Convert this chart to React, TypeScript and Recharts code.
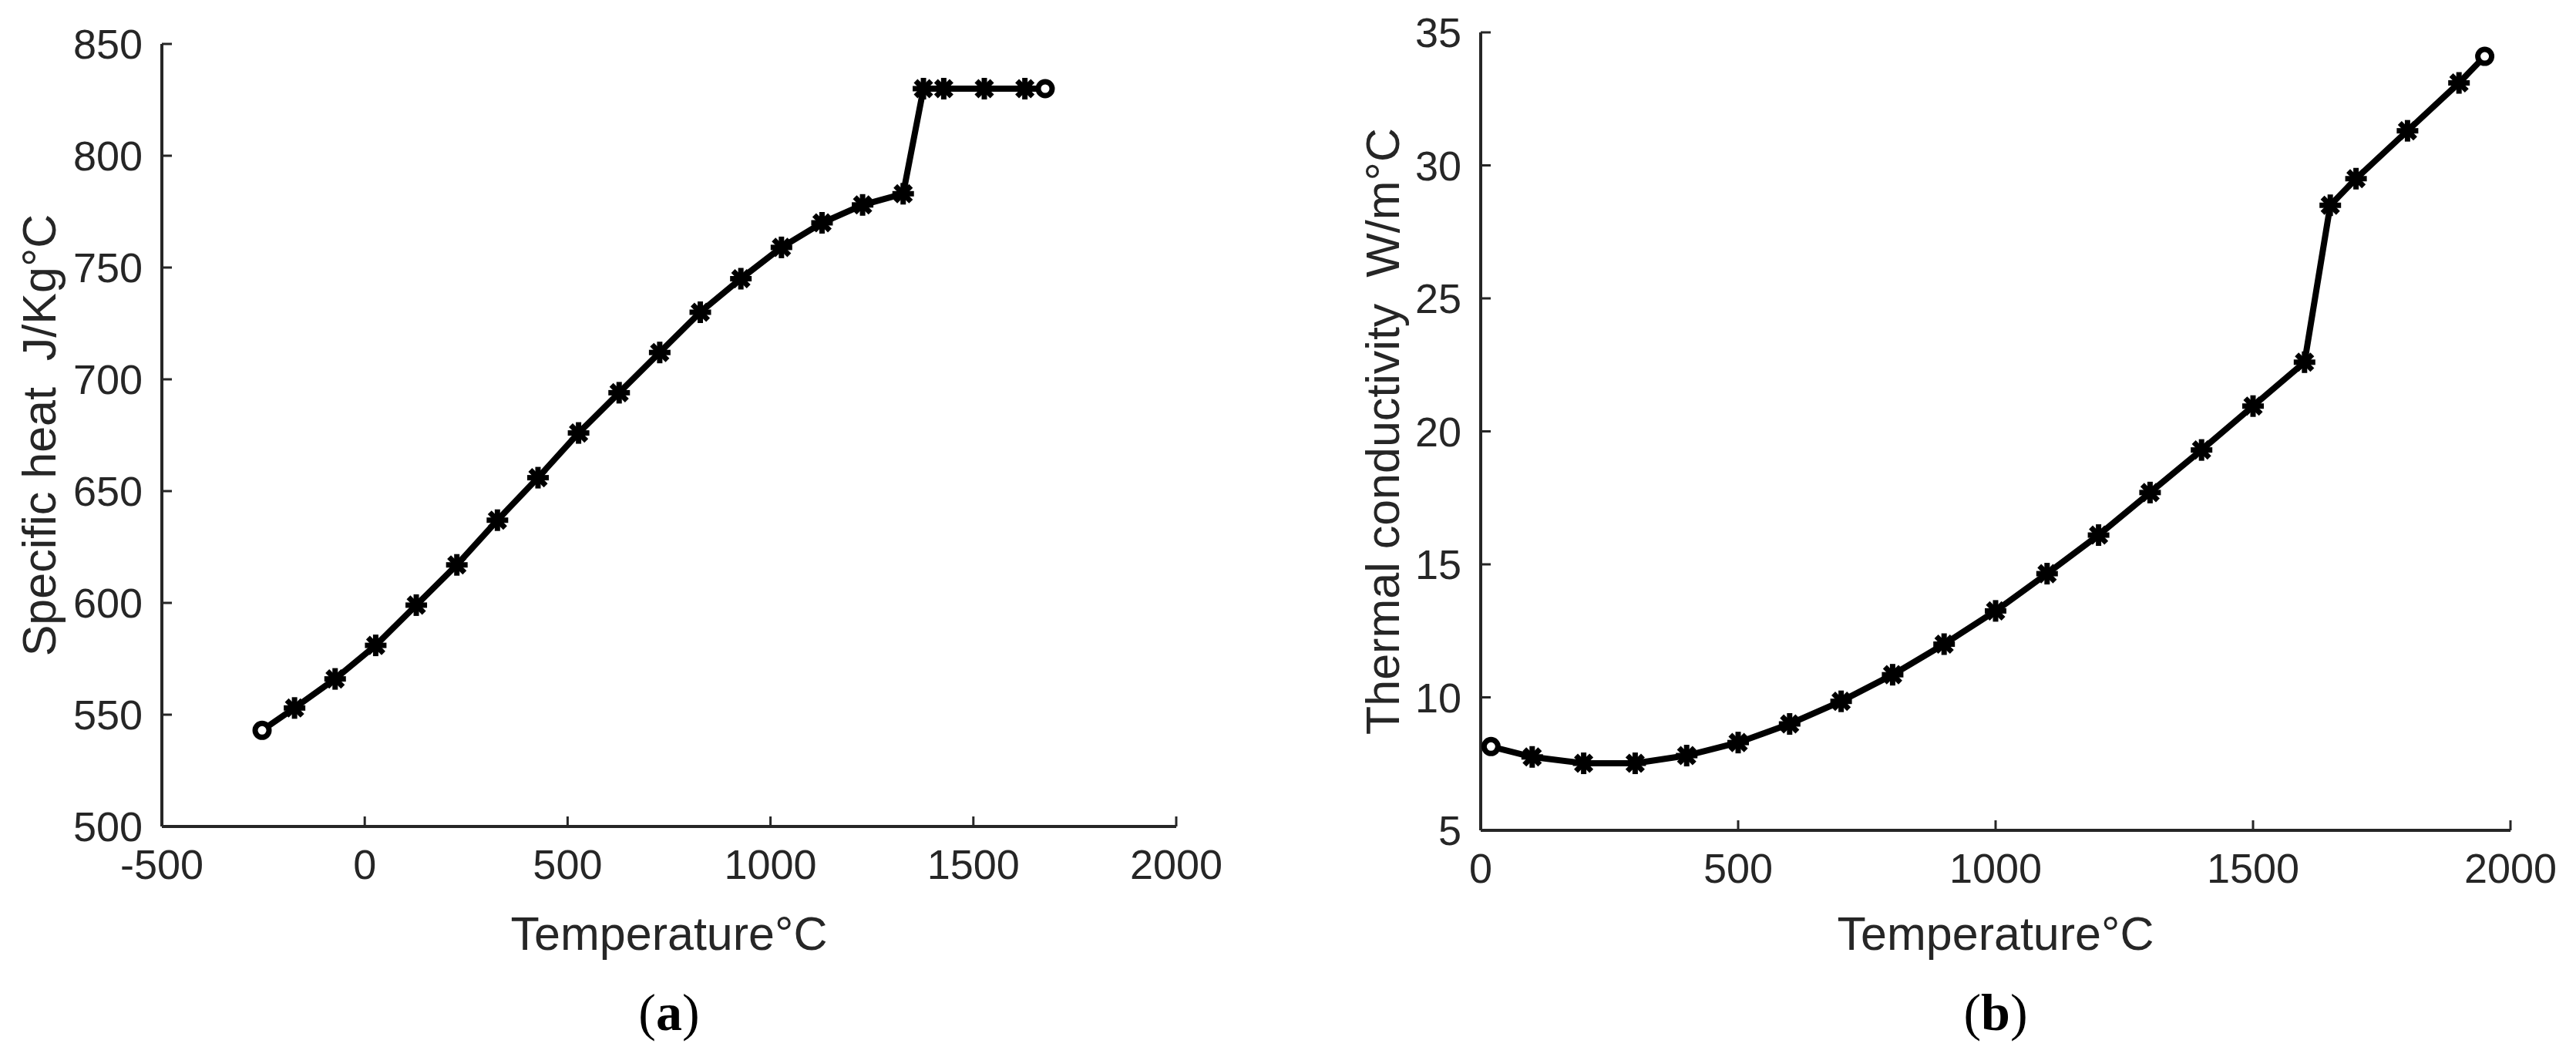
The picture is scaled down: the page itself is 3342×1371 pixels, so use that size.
import { LineChart, Line, XAxis, YAxis, Label } from "recharts"

// (a) specific heat
const heatTemps = [-253, -173, -73, 27, 127, 227, 327, 427, 527, 627, 727, 827, 927, 1027, 1127, 1227, 1327, 1377, 1427, 1527, 1627, 1677]
const heatValues = [543, 553, 566, 581, 599, 617, 637, 656, 676, 694, 712, 730, 745, 759, 770, 778, 783, 830, 830, 830, 830, 830]
const heatXTicks = [-500, 0, 500, 1000, 1500, 2000]
const heatYTicks = [500, 550, 600, 650, 700, 750, 800, 850]

// (b) thermal conductivity
const condTemps = [20, 100, 200, 300, 400, 500, 600, 700, 800, 900, 1000, 1100, 1200, 1300, 1400, 1500, 1600, 1650, 1700, 1800, 1900, 1950]
const condValues = [8.15, 7.76, 7.52, 7.52, 7.81, 8.3, 9.0, 9.85, 10.85, 12.0, 13.25, 14.65, 16.1, 17.7, 19.3, 20.95, 22.6, 28.5, 29.5, 31.3, 33.1, 34.1]
const condXTicks = [0, 500, 1000, 1500, 2000]
const condYTicks = [5, 10, 15, 20, 25, 30, 35]

const FONT = '"Liberation Sans", Arial, Helvetica, sans-serif'
const INK = "#262626"
const TICK_LEN = 13
const GAP_X = 30
const GAP_Y = 25
const TICK_FS = 54
const LABEL_FS = 61

// ticks point inwards like MATLAB, so draw them together with the label
const bottomTick = (axisY: number) => (props: any) => {
  const { x, payload } = props
  return (
    <g>
      <line x1={x} x2={x} y1={axisY} y2={axisY - TICK_LEN} stroke={INK} strokeWidth={3} />
      <text x={x} y={axisY + GAP_X} dy="0.71em" textAnchor="middle" fontSize={TICK_FS} fill={INK} fontFamily={FONT}>
        {payload.value}
      </text>
    </g>
  )
}

const leftTick = (axisX: number) => (props: any) => {
  const { y, payload } = props
  return (
    <g>
      <line x1={axisX} x2={axisX + TICK_LEN} y1={y} y2={y} stroke={INK} strokeWidth={3} />
      <text x={axisX - GAP_Y} y={y} dy="0.355em" textAnchor="end" fontSize={TICK_FS} fill={INK} fontFamily={FONT}>
        {payload.value}
      </text>
    </g>
  )
}

const topTick = (axisY: number) => (props: any) => {
  const { x } = props
  return <line x1={x} x2={x} y1={axisY} y2={axisY + TICK_LEN} stroke={INK} strokeWidth={3} />
}

const rightTick = (axisX: number) => (props: any) => {
  const { y } = props
  return <line x1={axisX} x2={axisX - TICK_LEN} y1={y} y2={y} stroke={INK} strokeWidth={3} />
}

const makeDot = (count: number) => (props: any) => {
  const { cx, cy, index } = props
  if (index === 0 || index === count - 1) {
    return <circle key={`d${index}`} cx={cx} cy={cy} r={9} fill="#fff" stroke="#000" strokeWidth={7} />
  }
  const r = 14
  const d = r * 0.72
  return (
    <g key={`d${index}`} stroke="#000" strokeWidth={7}>
      <line x1={cx - r} x2={cx + r} y1={cy} y2={cy} />
      <line x1={cx} x2={cx} y1={cy - r} y2={cy + r} />
      <line x1={cx - d} x2={cx + d} y1={cy - d} y2={cy + d} />
      <line x1={cx - d} x2={cx + d} y1={cy + d} y2={cy - d} />
    </g>
  )
}

function Panel(props: {
  left: number
  width: number
  plotL: number
  plotR: number
  plotT: number
  plotB: number
  temps: number[]
  values: number[]
  xDomain: [number, number]
  yDomain: [number, number]
  xTicks: number[]
  yTicks: number[]
  yTitle: string
  yTitleX: number
  letter: string
}) {
  const H = 1371
  const xAxisH = 60
  const yAxisW = 160
  const data = props.temps.map((t, i) => ({ t, v: props.values[i] }))
  const cx = (props.plotL + props.plotR) / 2
  const cy = (props.plotT + props.plotB) / 2
  return (
    <div style={{ position: "absolute", left: props.left, top: 0 }}>
      <LineChart
        width={props.width}
        height={H}
        data={data}
        margin={{
          top: props.plotT,
          left: props.plotL - yAxisW,
          right: props.width - props.plotR,
          bottom: H - props.plotB - xAxisH,
        }}
      >
        <XAxis
          dataKey="t"
          type="number"
          domain={props.xDomain}
          ticks={props.xTicks}
          interval={0}
          height={xAxisH}
          tickSize={0}
          tickMargin={GAP_X}
          tickLine={false}
          axisLine={{ stroke: INK, strokeWidth: 4 }}
          tick={bottomTick(props.plotB)}
        >
          <Label
            content={() => (
              <text x={cx} y={1210} dy="0.355em" textAnchor="middle" fontSize={LABEL_FS} fill={INK} fontFamily={FONT}>
                Temperature°C
              </text>
            )}
          />
          <Label
            content={() => (
              <text x={cx} y={1312} dy="0.355em" textAnchor="middle" fontSize={68} fill="#000" fontFamily='"Liberation Serif", "Times New Roman", serif'>
                (<tspan fontWeight="bold">{props.letter}</tspan>)
              </text>
            )}
          />
        </XAxis>
        <XAxis
          xAxisId="top"
          orientation="top"
          dataKey="t"
          type="number"
          domain={props.xDomain}
          ticks={props.xTicks}
          interval={0}
          height={0}
          tickSize={0}
          tickLine={false}
          axisLine={{ stroke: INK, strokeWidth: 4 }}
          tick={topTick(props.plotT)}
        />
        <YAxis
          type="number"
          domain={props.yDomain}
          ticks={props.yTicks}
          interval={0}
          width={yAxisW}
          tickSize={0}
          tickMargin={GAP_Y}
          tickLine={false}
          axisLine={{ stroke: INK, strokeWidth: 4 }}
          tick={leftTick(props.plotL)}
        >
          <Label
            content={() => (
              <text
                x={props.yTitleX}
                y={cy}
                dy="0.355em"
                textAnchor="middle"
                transform={`rotate(-90 ${props.yTitleX} ${cy})`}
                fontSize={LABEL_FS}
                fill={INK}
                fontFamily={FONT}
              >
                {props.yTitle}
              </text>
            )}
          />
        </YAxis>
        <YAxis
          yAxisId="right"
          orientation="right"
          type="number"
          domain={props.yDomain}
          ticks={props.yTicks}
          interval={0}
          width={0}
          tickSize={0}
          tickLine={false}
          axisLine={{ stroke: INK, strokeWidth: 4 }}
          tick={rightTick(props.plotR)}
        />
        {/* invisible twin so the top / right box axes get drawn */}
        <Line
          xAxisId="top"
          yAxisId="right"
          type="linear"
          dataKey="v"
          stroke="none"
          dot={false}
          activeDot={false}
          legendType="none"
          isAnimationActive={false}
        />
        <Line
          type="linear"
          dataKey="v"
          stroke="#000"
          strokeWidth={8}
          dot={makeDot(data.length)}
          activeDot={false}
          isAnimationActive={false}
        />
      </LineChart>
    </div>
  )
}

export default function App() {
  return (
    <div style={{ position: "absolute", left: 0, top: 0, width: 3342, height: 1371, background: "#fff", overflow: "hidden" }}>
      <Panel
        left={0}
        width={1700}
        plotL={210}
        plotR={1526}
        plotT={57}
        plotB={1072}
        temps={heatTemps}
        values={heatValues}
        xDomain={[-500, 2000]}
        yDomain={[500, 850]}
        xTicks={heatXTicks}
        yTicks={heatYTicks}
        yTitle={"Specific heat\u00A0\u00A0J/Kg°C"}
        yTitleX={50}
        letter="a"
      />
      <Panel
        left={1700}
        width={1642}
        plotL={221}
        plotR={1557}
        plotT={42}
        plotB={1077}
        temps={condTemps}
        values={condValues}
        xDomain={[0, 2000]}
        yDomain={[5, 35]}
        xTicks={condXTicks}
        yTicks={condYTicks}
        yTitle={"Thermal conductivity\u00A0\u00A0W/m°C"}
        yTitleX={93}
        letter="b"
      />
    </div>
  )
}
